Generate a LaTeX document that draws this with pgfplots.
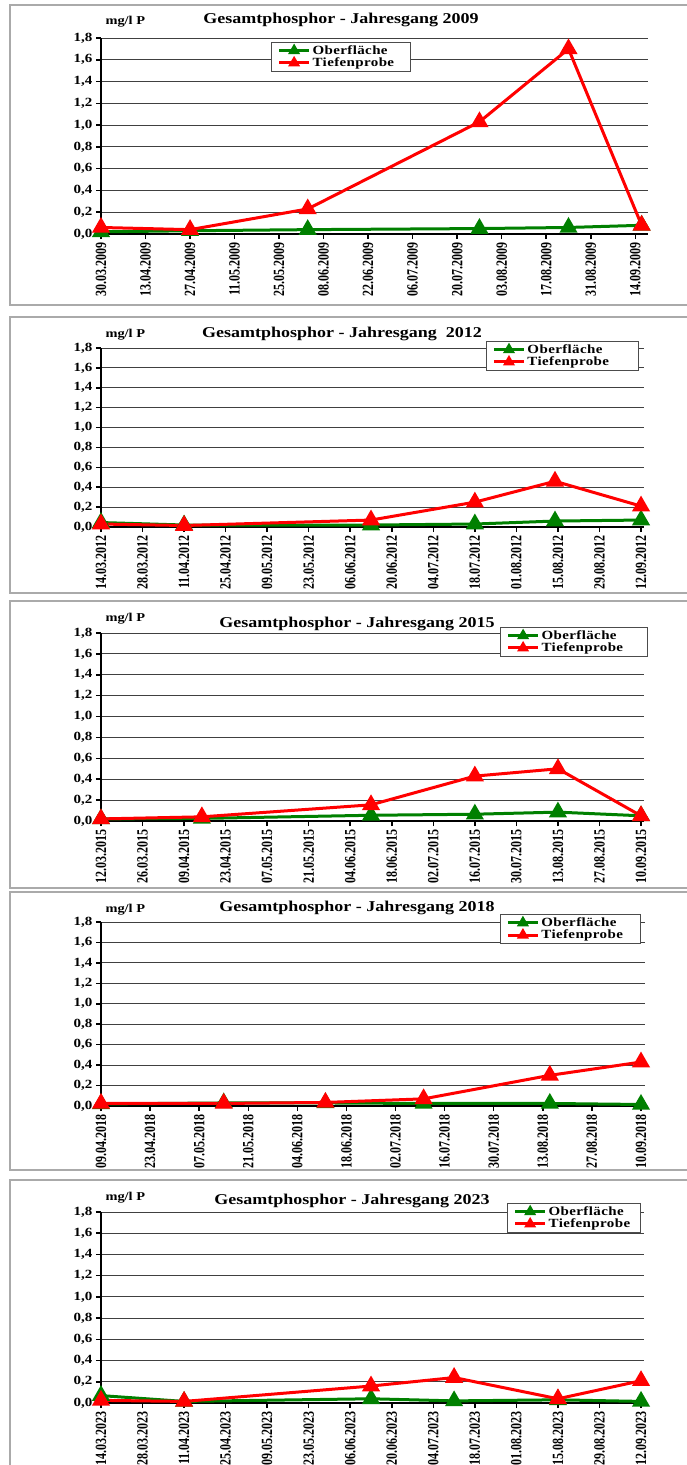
\documentclass[border=0pt]{standalone}
\usepackage{pgfplots}
\pgfplotsset{compat=1.18}
\usepackage{fontspec}
\setmainfont{Liberation Serif}[FakeStretch=1.2]
\newfontfamily\rotfont{Liberation Serif}
\newfontfamily\legfont{Liberation Serif}[FakeStretch=1.2, LetterSpace=3]
\definecolor{dgreen}{RGB}{0,128,0}
\definecolor{frame}{RGB}{170,170,170}
\newcommand{\leg}[2]{\makebox[#1][l]{#2}}
\pgfplotsset{
  panel/.style={
    scale only axis, xmin=0, ymin=0, ymax=1.8,
    axis x line*=bottom, axis y line*=left,
    axis line style={line width=2.5pt},
    ytick={0,0.2,0.4,0.6,0.8,1.0,1.2,1.4,1.6,1.8},
    ymajorgrids, grid style={black!75, line width=0.9pt},
    tick align=outside, major tick length=5pt,
    tick style={black, line width=1.5pt},
    yticklabel style={font=\fontsize{12.5}{12.5}\selectfont\bfseries,
      /pgf/number format/fixed, /pgf/number format/fixed zerofill,
      /pgf/number format/precision=1, /pgf/number format/use comma,
      /pgf/number format/assume math mode=true},
    xticklabel style={rotate=90, yscale=1.3, anchor=east, font=\rotfont\fontsize{12}{12}\selectfont\bfseries},
    legend cell align=left,
    legend style={anchor=north west, draw=black!70, line width=1pt,
      font=\legfont\fontsize{12.5}{13}\selectfont\bfseries, inner xsep=6pt, inner ysep=1pt, row sep=-2pt, fill=white},
    legend image code/.code={
      \draw[mark repeat=2,mark phase=2,#1,mark size=4pt] plot coordinates {(0pt,0pt) (15pt,0pt) (30pt,0pt)};},
    clip=false,
  },
  ober/.style={dgreen, line width=3pt, mark=triangle*, mark size=7.5pt, mark options={solid}},
  tief/.style={red, line width=3pt, mark=triangle*, mark size=7.5pt, mark options={solid}},
}
\begin{document}
\begin{tikzpicture}
\useasboundingbox (0pt,0pt) rectangle (687pt,-1465pt);
% frames
\draw[frame, line width=1.5pt] (687pt,-5pt) -- (10pt,-5pt) -- (10pt,-305pt) -- (687pt,-305pt);
\draw[frame, line width=1.5pt] (687pt,-317pt) -- (10pt,-317pt) -- (10pt,-593pt) -- (687pt,-593pt);
\draw[frame, line width=1.5pt] (687pt,-601pt) -- (10pt,-601pt) -- (10pt,-888pt) -- (687pt,-888pt);
\draw[frame, line width=1.5pt] (687pt,-892pt) -- (10pt,-892pt) -- (10pt,-1170pt) -- (687pt,-1170pt);
\draw[frame, line width=1.5pt] (687pt,-1180pt) -- (10pt,-1180pt) -- (10pt,-1465pt);

% ---------- 2009
\begin{axis}[panel, at={(101pt,-234pt)}, anchor=south west, width=547pt, height=196pt, xmax=172,
  xtick={0,14,28,42,56,70,84,98,112,126,140,154,168},
  xticklabels={30.03.2009,13.04.2009,27.04.2009,11.05.2009,25.05.2009,08.06.2009,22.06.2009,06.07.2009,20.07.2009,03.08.2009,17.08.2009,31.08.2009,14.09.2009},
  legend style={at={(axis description cs:0.311,0.98)}}]
\addplot[ober] coordinates {(0,0.02) (28,0.03) (65,0.04) (119,0.05) (147,0.06) (170,0.08)};
\addlegendentry{\leg{90pt}{Oberfläche}}
\addplot[tief] coordinates {(0,0.06) (28,0.04) (65,0.23) (119,1.03) (147,1.70) (170,0.08)};
\addlegendentry{\leg{90pt}{Tiefenprobe}}
\end{axis}
\node[font=\fontsize{15}{15}\selectfont\bfseries] at (341pt,-20pt) {Gesamtphosphor - Jahresgang 2009};
\node[anchor=west, font=\fontsize{12}{12}\selectfont\bfseries] at (102pt,-22pt) {mg/l P};

% ---------- 2012
\begin{axis}[panel, at={(101pt,-527pt)}, anchor=south west, width=543pt, height=179pt, xmax=183,
  xtick={0,14,28,42,56,70,84,98,112,126,140,154,168,182},
  xticklabels={14.03.2012,28.03.2012,11.04.2012,25.04.2012,09.05.2012,23.05.2012,06.06.2012,20.06.2012,04.07.2012,18.07.2012,01.08.2012,15.08.2012,29.08.2012,12.09.2012},
  legend style={at={(axis description cs:0.709,1.039)}}]
\addplot[ober] coordinates {(0,0.045) (28,0.02) (91,0.02) (126,0.03) (153,0.06) (182,0.07)};
\addlegendentry{\leg{103pt}{Oberfläche}}
\addplot[tief] coordinates {(0,0.03) (28,0.015) (91,0.07) (126,0.25) (153,0.46) (182,0.21)};
\addlegendentry{\leg{103pt}{Tiefenprobe}}
\end{axis}
\node[font=\fontsize{15}{15}\selectfont\bfseries] at (342pt,-334pt) {Gesamtphosphor - Jahresgang\ \ 2012};
\node[anchor=west, font=\fontsize{12}{12}\selectfont\bfseries] at (102pt,-335pt) {mg/l P};

% ---------- 2015
\begin{axis}[panel, at={(101pt,-821pt)}, anchor=south west, width=543pt, height=188pt, xmax=183,
  xtick={0,14,28,42,56,70,84,98,112,126,140,154,168,182},
  xticklabels={12.03.2015,26.03.2015,09.04.2015,23.04.2015,07.05.2015,21.05.2015,04.06.2015,18.06.2015,02.07.2015,16.07.2015,30.07.2015,13.08.2015,27.08.2015,10.09.2015},
  legend style={at={(axis description cs:0.735,1.032)}}]
\addplot[ober] coordinates {(0,0.02) (34,0.025) (91,0.055) (126,0.065) (154,0.085) (182,0.05)};
\addlegendentry{\leg{98pt}{Oberfläche}}
\addplot[tief] coordinates {(0,0.02) (34,0.04) (91,0.155) (126,0.43) (154,0.50) (182,0.05)};
\addlegendentry{\leg{98pt}{Tiefenprobe}}
\end{axis}
\node[font=\fontsize{15}{15}\selectfont\bfseries] at (357pt,-624pt) {Gesamtphosphor - Jahresgang 2015};
\node[anchor=west, font=\fontsize{12}{12}\selectfont\bfseries] at (102pt,-619pt) {mg/l P};

% ---------- 2018
\begin{axis}[panel, at={(101pt,-1106pt)}, anchor=south west, width=543.5pt, height=184pt, xmax=155,
  xtick={0,14,28,42,56,70,84,98,112,126,140,154},
  xticklabels={09.04.2018,23.04.2018,07.05.2018,21.05.2018,04.06.2018,18.06.2018,02.07.2018,16.07.2018,30.07.2018,13.08.2018,27.08.2018,10.09.2018},
  legend style={at={(axis description cs:0.734,1.043)}}]
\addplot[ober] coordinates {(0,0.02) (35,0.03) (64,0.03) (92,0.025) (128,0.025) (154,0.015)};
\addlegendentry{\leg{91pt}{Oberfläche}}
\addplot[tief] coordinates {(0,0.025) (35,0.025) (64,0.035) (92,0.07) (128,0.30) (154,0.43)};
\addlegendentry{\leg{91pt}{Tiefenprobe}}
\end{axis}
\node[font=\fontsize{15}{15}\selectfont\bfseries] at (357pt,-908pt) {Gesamtphosphor - Jahresgang 2018};
\node[anchor=west, font=\fontsize{12}{12}\selectfont\bfseries] at (102pt,-910pt) {mg/l P};

% ---------- 2023
\begin{axis}[panel, at={(101pt,-1403pt)}, anchor=south west, width=543pt, height=191pt, xmax=183,
  xtick={0,14,28,42,56,70,84,98,112,126,140,154,168,182},
  xticklabels={14.03.2023,28.03.2023,11.04.2023,25.04.2023,09.05.2023,23.05.2023,06.06.2023,20.06.2023,04.07.2023,18.07.2023,01.08.2023,15.08.2023,29.08.2023,12.09.2023},
  legend style={at={(axis description cs:0.748,1.047)}}]
\addplot[ober] coordinates {(0,0.07) (28,0.015) (91,0.04) (119,0.02) (154,0.03) (182,0.015)};
\addlegendentry{\leg{84pt}{Oberfläche}}
\addplot[tief] coordinates {(0,0.025) (28,0.015) (91,0.16) (119,0.24) (154,0.04) (182,0.21)};
\addlegendentry{\leg{84pt}{Tiefenprobe}}
\end{axis}
\node[font=\fontsize{15}{15}\selectfont\bfseries] at (352pt,-1201pt) {Gesamtphosphor - Jahresgang 2023};
\node[anchor=west, font=\fontsize{12}{12}\selectfont\bfseries] at (102pt,-1198pt) {mg/l P};
\end{tikzpicture}
\end{document}
